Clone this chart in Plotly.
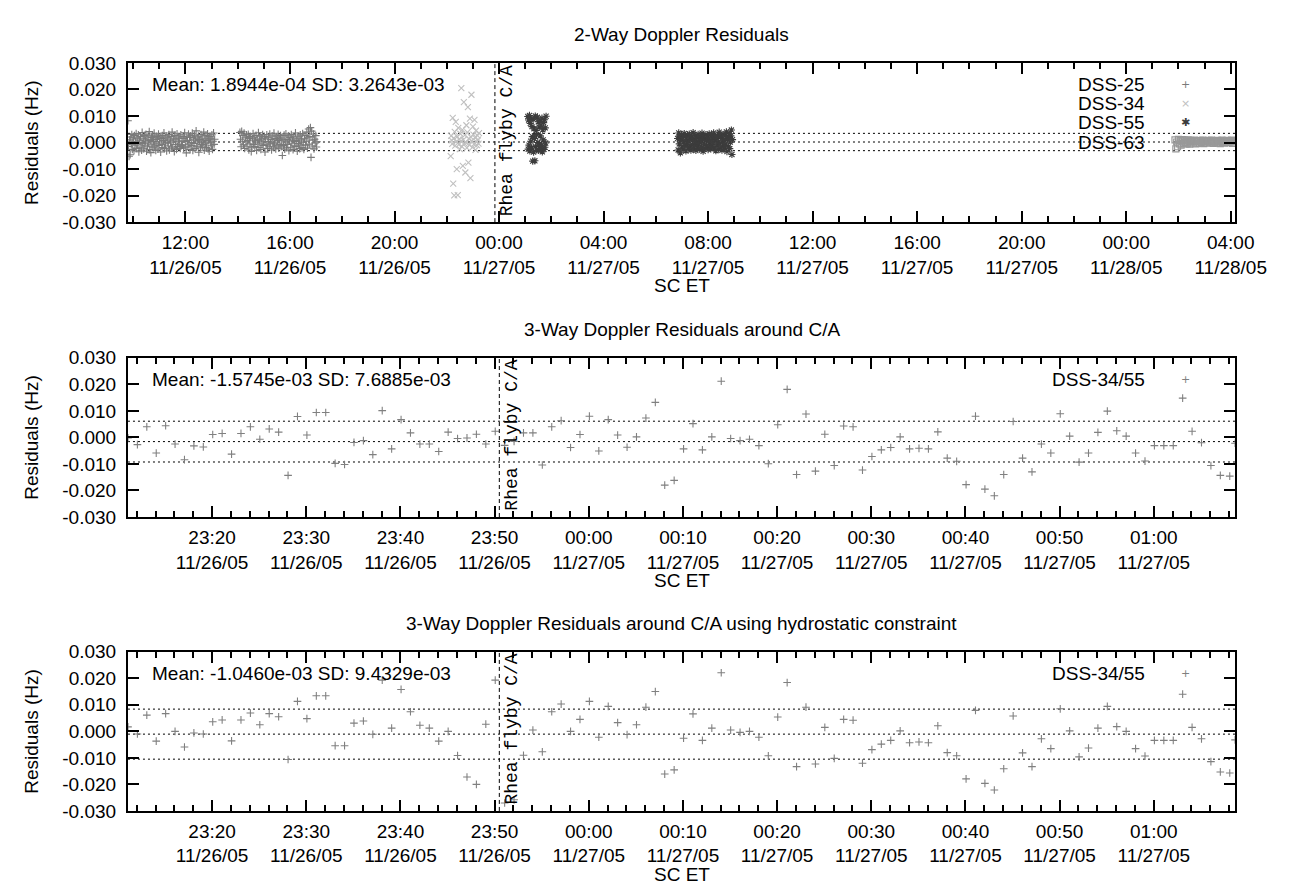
import pandas as pd
import plotly.graph_objects as go

# ------------------------------------------------------------------ data
# Top panel: 2-way Doppler residuals per station (values in mHz)
DSS25_BLOCK1_SPAN = ("2005-11-26 09:48", "2005-11-26 13:07")
DSS25_BLOCK1_MHZ = [8.2, -1.5, -5.2, 1.0, -4.6, 2.1, -0.8, 3.0, -2.6, 0.5, 1.8, -3.1, 2.6, -1.2, 0.3,
                    3.4, -2.2, 1.4, -0.6, 2.9, -3.5, 0.9, -1.8, 2.2, 0.0, -2.9, 3.8, -0.4, 1.6, -2.4,
                    2.7, -1.0, 0.6, 3.1, -3.3, 1.2, -1.6, 2.4, -0.2, 4.1, -2.7, 0.8, -3.8, 1.9, -0.9,
                    2.8, -2.0, 0.4, 3.5, -1.4, 1.1, -3.0, 2.3, -0.5, 1.7, -2.5, 3.2, -1.1, 0.2, 2.0,
                    -3.6, 1.5, -0.7, 2.6, -1.9, 0.7, 3.6, -2.3, 1.3, -0.3, 2.5, -3.2, 0.1, 1.8, -1.3,
                    3.0, -2.8, 0.9, -0.1, 2.2, -1.7, 3.9, -2.1, 0.5, 1.4, -3.4, 2.7, -0.8, 1.0, -2.6,
                    3.3, -1.5, 0.3, 2.1, -0.6, 1.6, -2.2, 2.9, -1.2, 0.6,
                    -0.9, 2.3, -2.1, 1.5, 3.7, -1.8, 0.4, -3.9, 2.0, 0.8, -1.4, 3.2, -0.6, 1.9, -2.7,
                    2.5, 0.0, -1.1, 3.5, -3.0, 1.3, -0.4, 2.8, -2.3, 0.9, 4.4, -1.6, 1.7, -0.2, 2.4,
                    -3.7, 0.6, 1.1, -2.0, 3.0, -0.8, 2.1, -1.3, 0.2, 3.9, -2.9, 1.4, -0.5, 2.6, -1.9,
                    0.7, 3.3, -2.4, 1.0, -3.3, 2.2, -0.1, 1.6, -1.2, 2.9, -2.6, 0.5, 3.6, -0.7, 1.2]
DSS25_BLOCK2_SPAN = ("2005-11-26 14:05", "2005-11-26 17:02")
DSS25_BLOCK2_MHZ = [3.8, 1.2, -1.6, 4.2, 0.5, 2.6, -0.9, 3.5, -2.2, 1.8, 0.3, 2.9, -1.4, 0.8, 3.1,
                    -2.8, 1.5, -0.5, 2.3, -3.4,
                    -2.0, 1.4, 3.4, -0.8, 2.0, -1.5, 0.6, 2.7, -3.0, 1.0, -0.2, 3.7, -1.9, 0.9, 2.4,
                    -2.6, 1.6, -0.6, 3.0, -1.1, 0.3, 2.2, -3.6, 1.3, -0.9, 2.9, -2.2, 0.4, 1.8, -1.4,
                    3.2, -0.3, 1.1, -2.8, 2.5, 0.1, -1.7, 3.5, -0.5, 1.5, -2.4, 2.1, -1.0, 0.8, 3.1,
                    -2.1, 1.2, -0.7, 2.6, -1.6,
                    0.9, -4.9, 1.7, -1.1, 2.8, -2.5, 0.2, 3.3, -1.8, 1.1,
                    -0.7, 2.5, -3.1, 0.6, 1.9, -2.0, 3.0, -0.3, 1.3, -2.7, 2.1, -1.2, 0.4, 3.6, -1.5,
                    0.7, -3.3, 2.4, -0.4, 1.6, -2.3, 2.9, -0.9, 1.0, -1.9, 3.4, 0.1, -2.6, 1.4, 2.7,
                    -1.0, 0.5, 3.9, -2.1, 1.8, 5.1, -0.6, 2.2, 5.6, -5.6, 4.3, -1.3, 0.9, 3.2, -2.4,
                    1.2, -0.2, 2.6, -1.7, 0.3]
DSS34_SPAN = ("2005-11-26 22:09", "2005-11-26 23:14")
DSS34_MHZ = [-5.1, 2.5, 0.8, -0.5, 9.3, -15.5, 1.6, -19.9, 4.0, -1.2, 7.8, 0.3, -10.0, 2.2, -19.8,
             5.5, -0.8, 1.2, -2.5, 3.3, 0.5, 20.5, -1.5, 4.8, -8.8, 1.0, 15.2, -0.3, 2.8, -11.3,
             0.0, 6.5, -2.0, 3.8, 13.3, -7.6, 1.5, -0.9, 9.0, -13.4, 2.0, 18.0, 0.6, -1.8, 6.0,
             3.0, -0.6, 8.5, 1.8, -2.8, 4.5, 0.2, -1.0, 2.6, 1.1, -0.4, 3.5]
DSS55_PASS1_SPAN = ("2005-11-27 01:06", "2005-11-27 01:48")
DSS55_PASS1_MHZ = [9.8, -2.5, 8.5, -1.0, 10.2, -3.2, 7.2, 0.5, 9.0, -2.0, 6.0, 2.2, -7.0, 8.8, -3.6,
                   5.2, 1.5, -6.9, 10.0, -1.5, 4.5, 3.0, -2.8, 9.5, 0.0, 7.8, -3.0, 5.8, -0.5, 8.0,
                   2.5, -2.2, 6.5, -1.2, 9.2, -3.5, 4.8, 1.0, 7.5, -2.6, 8.6, -1.8, 5.5, -0.2, 9.9]
DSS55_PASS2_SPAN = ("2005-11-27 06:50", "2005-11-27 08:56")
DSS55_PASS2_MHZ = [1.5, -2.8, 3.6, -0.5, 2.2, -3.9, 0.8, 3.0, -1.7, 1.9, -2.5, 0.2, 3.4, -1.1, 2.6,
                   -3.2, 1.0, -0.2, 2.9, -2.0, 0.6, 3.2, -1.4, 1.7, -2.9, 2.4, -0.7, 0.9, 3.7, -2.3,
                   1.2, -0.9, 2.7, -3.0, 0.4, 2.0, -1.6, 3.1, -0.4, 1.4, -2.6, 2.3, 0.0, -1.9, 3.5,
                   1.1, -3.3, 2.5, -0.6, 1.6, -2.2, 3.0, 0.7, -1.3, 2.1, -2.7, 1.3, 3.3, -0.8, 0.3,
                   -2.4, 2.8, -1.5, 1.8, -0.1, 3.6, -2.1, 0.9, 2.2, -3.1, 1.5, -1.0, 2.6, 0.1, -2.5,
                   3.9, -0.3, 1.9, -1.8, 2.4, -2.9, 0.5, 3.1, -1.2, 1.0, -2.0, 2.7, -0.5, 4.0, -3.4,
                   1.4, 2.0, -1.6, 3.3, -2.3, 0.2, 2.5, 4.7, -4.5, 1.1]
DSS63_SPAN = ("2005-11-28 01:52", "2005-11-28 04:10")
DSS63_MHZ = [1.0, -2.4, 0.2, -1.6, 1.2, -0.5, 0.8, -1.0, 0.5, 1.1, -0.3, 0.9, 0.0, 0.6, -0.4,
             1.0, 0.3, -0.6, 0.8, 0.1, 0.5, -0.2, 0.9, 0.4, -0.5, 0.7, 0.2, 0.6, -0.3, 0.8,
             0.0, 0.5, 0.9, -0.4, 0.3, 0.7, -0.1, 0.6, 0.2, 0.8, -0.2, 0.4, 0.9, 0.1, -0.3,
             0.7, 0.3, 0.5, -0.1, 0.8, 0.2, 0.6, -0.4, 0.4, 0.9, 0.0, 0.7, -0.2, 0.5, 0.3,
             0.8, -0.1, 0.6, 0.1, 0.4, 0.9, -0.3, 0.7, 0.2, 0.5]
TOP_RANGE = ["2005-11-26 09:48", "2005-11-28 04:10"]

# Lower panels: 3-way residuals around C/A, one sample per minute (mHz)
CA_FIRST_TIME = "2005-11-26 23:11:04"
CA_SAMPLE_SECONDS = 60
CA_MID_MHZ = [-0.2, -2.7, 4.0, -5.9, 4.4, -2.5, -8.4, -3.2, -3.6, 1.1, 1.5, -6.3, 1.5, 4.0, -0.7,
              3.2, 2.0, -14.3, 7.9, 0.9, 9.4, 9.4, -9.8, -10.2, -1.9, -1.2, -6.5, 10.1, -4.3, 6.7,
              1.7, -2.5, -2.5, -5.3, 2.0, -0.4, -0.2, 1.2, -2.5, 2.3, -3.0, -1.5,
              1.7, 1.7, -10.4, 4.0, 6.3, -3.8, 1.1, 8.0, -5.1, 6.7, 0.9, -3.7, 0.2, 7.3, 13.2,
              -18.0, -16.2, -4.3, 5.2, -4.7, 0.2, 21.2, -0.4, -1.2, -0.7, -3.1, -9.9, 4.8, 18.1,
              -14.0, 8.8, -12.7, 1.2, -10.6, 4.3, 4.0, -12.3, -7.2, -4.7,
              -3.8, 0.2, -4.3, -4.1, -4.3, 2.1, -7.8, -9.0, -17.8, 8.0, -19.5, -22.0, -14.0, 6.0,
              -7.8, -13.0, -2.5, -5.9, 8.9, 0.5, -9.3, -5.9, 1.9, 9.9, 2.5, 0.5, -5.9, -8.9,
              -3.1, -3.1, -3.1, 14.8, 2.3, -2.0, -10.6, -14.3, -14.6]
CA_BOT_MHZ = [1.7, -1.0, 6.1, -3.7, 6.7, 0.0, -5.9, -0.6, -1.0, 3.6, 4.3, -3.6, 4.3, 6.9, 2.5,
              6.7, 5.5, -10.6, 11.3, 4.8, 13.4, 13.4, -5.4, -5.4, 3.1, 3.9, -1.1, 19.3, 1.2, 15.8,
              7.4, 2.3, 1.2, -3.7, 0.0, -9.1, -17.2, -20.0, 2.7, 19.3, -27.0, -25.8,
              -9.0, 0.5, -7.7, 7.4, 10.3, 0.0, 4.5, 11.3, -2.2, 9.4, 3.3, -1.2, 2.5, 9.1, 15.0,
              -16.1, -14.5, -2.6, 6.6, -3.4, 1.2, 22.1, 0.5, -0.4, 0.0, -2.2, -9.2, 5.4, 18.4,
              -13.3, 9.1, -12.3, 1.5, -10.2, 4.5, 4.2, -12.0, -6.9, -4.8,
              -3.4, 0.2, -4.3, -4.0, -4.3, 2.1, -8.0, -9.2, -17.9, 7.9, -19.6, -22.1, -14.1, 5.8,
              -8.1, -13.3, -2.8, -6.5, 8.5, 0.2, -9.6, -6.3, 1.2, 9.4, 1.8, 0.0, -6.5, -9.3,
              -3.4, -3.4, -3.4, 14.0, 1.5, -2.8, -11.4, -15.3, -15.7]
CA_LAST_TIME = "2005-11-27 01:08:38"
CA_MID_LAST_MHZ = -2.2
CA_BOT_LAST_MHZ = -3.2
CA_RANGE = [CA_FIRST_TIME, CA_LAST_TIME]

RHEA_CA = "2005-11-26 23:50:30"
MEANS = [1.8944e-04, -1.5745e-03, -1.0460e-03]
SDS = [3.2643e-03, 7.6885e-03, 9.4329e-03]
TITLES = ["2-Way Doppler Residuals",
          "3-Way Doppler Residuals around C/A",
          "3-Way Doppler Residuals around C/A using hydrostatic constraint"]
Y_TICKS = [-0.03, -0.02, -0.01, 0.0, 0.01, 0.02, 0.03]

# key entries: (label, glyph, colour)
TOP_KEY = [("DSS-25", "+", "#7a7a7a"), ("DSS-34", "\u00d7", "#c0c0c0"),
           ("DSS-55", "\u2731", "#3c3c3c"), ("DSS-63", "\u25a1", "#999999")]
CA_KEY = ("DSS-34/55", "+", "#808080")

# ------------------------------------------------------------------ layout constants
W, H = 1302, 895
X0, X1 = 123, 1258
PANEL_TOPS = [46, 348, 649]
PANEL_H = 163
FONT = "Liberation Sans, Arial, Helvetica, sans-serif"
MONO = "Liberation Mono, Courier New, monospace"
GLYPH = "DejaVu Sans, sans-serif"
FS = 19
KEY_TEXT_RIGHT = 1168
KEY_SYMBOL_X = 1207
KEY_ROW_GAP = 19.7


def px(x):
    return x / W


def py(y):
    return 1 - y / H


def span_times(span, vals):
    return list(pd.date_range(span[0], span[1], periods=len(vals)))


def mhz(vals):
    return [v * 1e-3 for v in vals]


fig = go.Figure()

# top panel traces
fig.add_trace(go.Scatter(
    x=span_times(DSS25_BLOCK1_SPAN, DSS25_BLOCK1_MHZ) + span_times(DSS25_BLOCK2_SPAN, DSS25_BLOCK2_MHZ),
    y=mhz(DSS25_BLOCK1_MHZ + DSS25_BLOCK2_MHZ), mode="markers", name="DSS-25",
    marker=dict(symbol="cross-thin-open", size=5.5, line=dict(width=1.1, color="#7a7a7a"), color="#7a7a7a"),
    xaxis="x", yaxis="y"))
fig.add_trace(go.Scatter(
    x=span_times(DSS34_SPAN, DSS34_MHZ), y=mhz(DSS34_MHZ), mode="markers", name="DSS-34",
    marker=dict(symbol="x-thin-open", size=6, line=dict(width=1.1, color="#c0c0c0"), color="#c0c0c0"),
    xaxis="x", yaxis="y"))
fig.add_trace(go.Scatter(
    x=span_times(DSS55_PASS1_SPAN, DSS55_PASS1_MHZ) + span_times(DSS55_PASS2_SPAN, DSS55_PASS2_MHZ),
    y=mhz(DSS55_PASS1_MHZ + DSS55_PASS2_MHZ), mode="markers", name="DSS-55",
    marker=dict(symbol="asterisk-open", size=6, line=dict(width=1.1, color="#3c3c3c"), color="#3c3c3c"),
    xaxis="x", yaxis="y"))
fig.add_trace(go.Scatter(
    x=span_times(DSS63_SPAN, DSS63_MHZ), y=mhz(DSS63_MHZ), mode="markers", name="DSS-63",
    marker=dict(symbol="square-open", size=6, line=dict(width=1.2, color="#999999"), color="#999999"),
    xaxis="x", yaxis="y"))

# lower panels
ca_times = list(pd.date_range(CA_FIRST_TIME, periods=len(CA_MID_MHZ), freq=f"{CA_SAMPLE_SECONDS}s"))
ca_times.append(pd.Timestamp(CA_LAST_TIME))
for vals, last, xa, ya in [(CA_MID_MHZ, CA_MID_LAST_MHZ, "x2", "y2"),
                           (CA_BOT_MHZ, CA_BOT_LAST_MHZ, "x3", "y3")]:
    fig.add_trace(go.Scatter(
        x=ca_times, y=mhz(vals + [last]), mode="markers", name="DSS-34/55",
        marker=dict(symbol="cross-thin-open", size=5.5, line=dict(width=1.1, color="#808080"), color="#808080"),
        xaxis=xa, yaxis=ya))

axis_common = dict(showline=True, linecolor="black", linewidth=2, mirror="allticks",
                   ticks="inside", ticklen=11, tickwidth=1.5, tickcolor="black",
                   showgrid=False, zeroline=False,
                   tickfont=dict(family=FONT, size=FS, color="black"))

layout = dict(width=W, height=H, margin=dict(l=0, r=0, t=0, b=0),
              paper_bgcolor="white", plot_bgcolor="white",
              font=dict(family=FONT, size=FS, color="black"),
              showlegend=False)

shapes = []
annotations = []


def key_row(label, glyph, colour, yc):
    annotations.append(dict(text=label, xref="paper", yref="paper", x=px(KEY_TEXT_RIGHT), y=py(yc),
                            xanchor="right", yanchor="middle", showarrow=False,
                            font=dict(family=FONT, size=FS, color="black")))
    annotations.append(dict(text=glyph, xref="paper", yref="paper", x=px(KEY_SYMBOL_X), y=py(yc),
                            xanchor="center", yanchor="middle", showarrow=False,
                            font=dict(family=GLYPH, size=11, color=colour)))


for i in range(3):
    sfx = "" if i == 0 else str(i + 1)
    top = PANEL_TOPS[i]
    bot = top + PANEL_H
    xa = dict(axis_common, domain=[px(X0), px(X1)], anchor="y" + sfx, type="date",
              tickformat="%H:%M<br>%m/%d/%y", ticklabelstandoff=2)
    if i == 0:
        xa.update(range=TOP_RANGE, tick0="2005-11-26 00:00", dtick=4 * 3600 * 1000,
                  minor=dict(dtick=3600 * 1000, ticks="inside", ticklen=6, tickwidth=1.5, tickcolor="black"))
    else:
        xa.update(range=CA_RANGE, tick0="2005-11-26 23:00", dtick=10 * 60 * 1000,
                  minor=dict(dtick=2 * 60 * 1000, ticks="inside", ticklen=6, tickwidth=1.5, tickcolor="black"))
    ya = dict(axis_common, domain=[py(bot), py(top)], anchor="x" + sfx, range=[Y_TICKS[0], Y_TICKS[-1]],
              tickvals=Y_TICKS, ticktext=[f"{v:.3f}" for v in Y_TICKS], ticklabelstandoff=6)
    layout["xaxis" + sfx] = xa
    layout["yaxis" + sfx] = ya

    xr, yr = "x" + sfx, "y" + sfx
    m, s = MEANS[i], SDS[i]
    for lvl in (m + s, m, m - s):
        shapes.append(dict(type="line", xref=xr + " domain", x0=0, x1=1, yref=yr, y0=lvl, y1=lvl,
                           line=dict(color="black", width=1, dash="2px,3px"), layer="below"))
    shapes.append(dict(type="line", xref=xr, x0=RHEA_CA, x1=RHEA_CA, yref=yr + " domain", y0=0, y1=1,
                       line=dict(color="black", width=1, dash="4px,3px")))

    annotations.append(dict(text="Rhea flyby C/A", xref=xr, x=RHEA_CA, yref=yr + " domain", y=1,
                            xanchor="left", yanchor="top", textangle=-90, xshift=1, showarrow=False,
                            font=dict(family=MONO, size=18, color="black")))
    annotations.append(dict(text=f"Mean: {m:.4e} SD: {s:.4e}", xref="paper", yref="paper",
                            x=px(146), y=py(top + 22), xanchor="left", yanchor="middle",
                            showarrow=False, font=dict(family=FONT, size=FS, color="black")))
    if i == 0:
        for r, (label, glyph, colour) in enumerate(TOP_KEY):
            key_row(label, glyph, colour, top + 22 + r * KEY_ROW_GAP)
    else:
        key_row(CA_KEY[0], CA_KEY[1], CA_KEY[2], top + 22)
    annotations.append(dict(text=TITLES[i], xref="paper", yref="paper", x=px((X0 + X1) / 2),
                            y=py(top - 29), xanchor="center", yanchor="middle", showarrow=False,
                            font=dict(family=FONT, size=FS, color="black")))
    annotations.append(dict(text="SC ET", xref="paper", yref="paper", x=px((X0 + X1) / 2),
                            y=py(bot + 65), xanchor="center", yanchor="middle", showarrow=False,
                            font=dict(family=FONT, size=FS, color="black")))
    annotations.append(dict(text="Residuals (Hz)", xref="paper", yref="paper", x=px(24),
                            y=py(top + PANEL_H / 2), xanchor="center", yanchor="middle",
                            textangle=-90, showarrow=False,
                            font=dict(family=FONT, size=FS, color="black")))

layout["shapes"] = shapes
layout["annotations"] = annotations
fig.update_layout(**layout)
fig.write_html("out.html")
